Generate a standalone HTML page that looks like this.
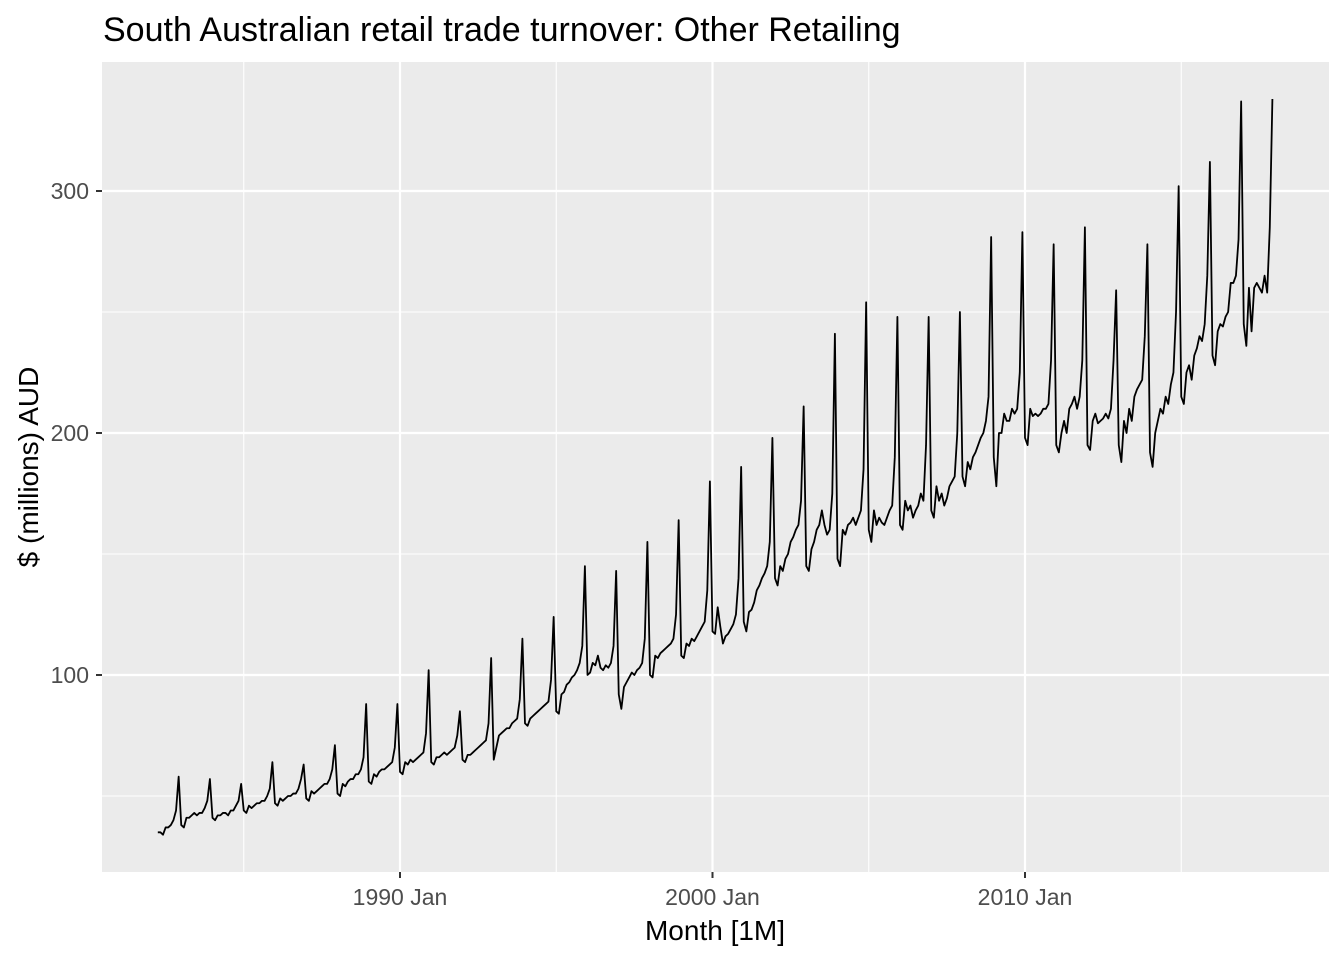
<!DOCTYPE html>
<html><head><meta charset="utf-8">
<style>
html,body{margin:0;padding:0;background:#fff;}
svg{display:block;font-family:"Liberation Sans",Arial,sans-serif;}
</style></head>
<body>
<svg id="chart" width="1344" height="960" viewBox="0 0 1344 960">
<text x="103" y="41" font-size="34" fill="#000">South Australian retail trade turnover: Other Retailing</text>
<rect x="102" y="62" width="1227" height="810" fill="#ebebeb"/>
<g id="grid"></g>
<g id="axes"></g>
<path id="line" fill="none" stroke="#000" stroke-width="1.8" stroke-linejoin="round"/>
<text x="715" y="940" font-size="28" text-anchor="middle" fill="#000">Month [1M]</text>
<text transform="translate(38,467) rotate(-90)" font-size="28" text-anchor="middle" fill="#000">$ (millions) AUD</text>
</svg>
<script>
const startYear = 1982, startMonth = 4;
const yTicks = [100, 200, 300];
const yMinor = [50, 150, 250];
const xTicks = [1990, 2000, 2010];
const xTickLabels = ["1990 Jan", "2000 Jan", "2010 Jan"];
const xMinor = [1985, 1995, 2005, 2015];
const turnover = [
35,35,34,37,37,38,40,44,58,
38,37,41,41,42,43,42,43,43,45,48,57,
41,40,42,42,43,43,42,44,44,46,48,55,
44,43,46,45,46,47,47,48,48,50,53,64,
47,46,49,48,49,50,50,51,51,53,57,63,
49,48,52,51,52,53,54,55,55,57,61,71,
51,50,55,54,56,57,57,59,59,61,66,88,
56,55,59,58,60,61,61,62,63,64,70,88,
60,59,64,63,65,64,65,66,67,68,76,102,
64,63,66,66,67,68,67,68,69,70,75,85,
65,64,67,67,68,69,70,71,72,73,80,107,
65,70,75,76,77,78,78,80,81,82,90,115,
80,79,82,83,84,85,86,87,88,89,98,124,
85,84,92,93,96,97,99,100,102,105,112,145,
100,101,105,104,108,103,102,104,103,105,112,143,
92,86,95,97,99,101,100,102,103,105,115,155,
100,99,108,107,109,110,111,112,113,115,125,164,
108,107,113,112,115,114,116,118,120,122,135,180,
118,117,128,120,113,116,117,119,121,125,140,186,
122,118,126,127,130,135,137,140,142,145,155,198,
140,137,145,143,148,150,155,157,160,162,172,211,
145,143,152,155,160,162,168,162,158,160,175,241,
148,145,160,158,162,163,165,162,165,168,185,254,
160,155,168,162,165,163,162,165,168,170,190,248,
162,160,172,168,170,165,168,170,175,172,195,248,
168,165,178,172,175,170,173,178,180,182,200,250,
182,178,188,185,190,192,195,198,200,205,215,281,
190,178,200,200,208,205,205,210,208,210,225,283,
198,195,210,207,208,207,208,210,210,212,230,278,
195,192,200,205,200,210,212,215,210,215,230,285,
195,193,205,208,204,205,206,208,206,210,230,259,
195,188,205,200,210,205,215,218,220,222,240,278,
192,186,200,205,210,208,215,212,220,225,250,302,
215,212,225,228,222,232,235,240,238,245,265,312,
232,228,242,245,244,248,250,262,262,265,280,337,
245,236,260,242,260,262,260,258,265,258,285,338
];
const X = t => 400 + (t - 1990) * 31.25;
const Y = v => 917 - v * 2.42;
const NS = "http://www.w3.org/2000/svg";
const grid = document.getElementById("grid"), axes = document.getElementById("axes");
function ln(g, x1, y1, x2, y2, w, c, name) {
  const l = document.createElementNS(NS, "line");
  l.setAttribute("x1", x1); l.setAttribute("y1", y1); l.setAttribute("x2", x2); l.setAttribute("y2", y2);
  l.setAttribute("stroke", c); l.setAttribute("stroke-width", w);
  
  
  g.appendChild(l);
}
function tx(g, x, y, s, anchor, name) {
  const t = document.createElementNS(NS, "text");
  t.setAttribute("x", x); t.setAttribute("y", y); t.setAttribute("font-size", "23");
  t.setAttribute("fill", "#4d4d4d"); t.setAttribute("text-anchor", anchor);
  t.textContent = s;
  
  
  g.appendChild(t);
}
yMinor.forEach(v => ln(grid, 102, Y(v), 1329, Y(v), 1.1, "#fff", "y-minor-gridline"));
xMinor.forEach(v => ln(grid, X(v), 62, X(v), 872, 1.1, "#fff", "x-minor-gridline"));
yTicks.forEach(v => {
  ln(grid, 102, Y(v), 1329, Y(v), 2.2, "#fff", "y-major-gridline");
  ln(axes, 96, Y(v), 102, Y(v), 2, "#333", "y-tick");
  tx(axes, 89, Y(v) + 8, String(v), "end", "y-tick-label");
});
xTicks.forEach((v, i) => {
  ln(grid, X(v), 62, X(v), 872, 2.2, "#fff", "x-major-gridline");
  ln(axes, X(v), 872, X(v), 878, 2, "#333", "x-tick");
  tx(axes, X(v), 905, xTickLabels[i], "middle", "x-tick-label");
});
let d = "";
turnover.forEach((v, i) => {
  const m = startMonth - 1 + i;
  const t = startYear + m / 12;
  d += (i ? "L" : "M") + X(t).toFixed(2) + "," + Y(v).toFixed(2);
});
document.getElementById("line").setAttribute("d", d);
</script>
</body></html>
